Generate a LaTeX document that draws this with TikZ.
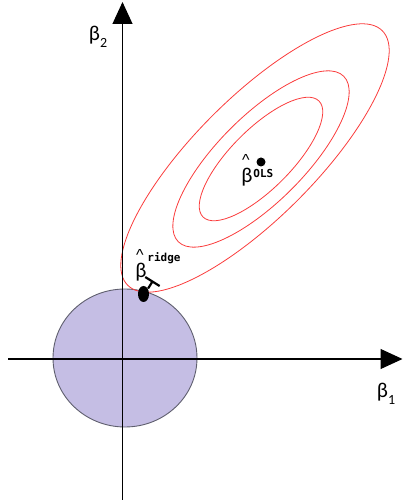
\documentclass[tikz,border=0pt]{standalone}
\usepackage{fontspec}
\setmainfont{Carlito}
\newfontfamily\supfont{DejaVu Sans Mono}
\newfontfamily\hatfont{Liberation Sans}
\usepackage{tikz}
\usetikzlibrary{arrows.meta,positioning,shapes.geometric}

\definecolor{ballfill}{RGB}{197,190,228}
\definecolor{balldraw}{RGB}{95,95,110}
\definecolor{rsscol}{RGB}{250,60,60}

\begin{document}
\begin{tikzpicture}[
  x=0.5pt,y=0.5pt,
  axis/.style={draw,line width=0.55pt,-{Triangle[length=11pt,width=10pt]}},
  ball/.style={fill=ballfill,draw=balldraw,line width=0.45pt},
  contour/.style={draw=rsscol,line width=0.4pt},
  bsym/.style={inner sep=0pt,font=\fontsize{10.5}{12}\selectfont},
  hatsym/.style={inner sep=0pt,font=\fontsize{8}{9}\hatfont},
  supsym/.style={inner sep=0pt,font=\fontsize{5.5}{6}\supfont\bfseries},
  dot/.style={fill=black,inner sep=0pt}
]
\useasboundingbox (0,0) rectangle (403,503);
% constraint region and the RSS contours
\draw[ball] (125,145) ellipse [x radius=72, y radius=69];
\draw[contour,rotate around={45:(255,345)}] (255,345) ellipse [x radius=180, y radius=60];
\draw[contour,rotate around={45:(261,344)}] (261,344) ellipse [x radius=117, y radius=43];
\draw[contour,rotate around={45:(261,344)}] (261,344) ellipse [x radius=82, y radius=30];
% axes
\coordinate (xl) at (8,144);
\coordinate (xr) at (402.5,144);
\coordinate (yb) at (122.5,3);
\coordinate (yt) at (122.5,501);
\draw[axis] (xl) -- (xr);
\draw[axis] (yb) -- (yt);
\node[bsym] (b1) at (386,109) {β\raisebox{-0.7ex}{\fontsize{7}{8}\selectfont 1}};
\node[bsym] (b2) at (98,466) {β\raisebox{-0.7ex}{\fontsize{7}{8}\selectfont 2}};
% estimates
\node[dot,circle,minimum size=4.5pt] (odot) at (261,341) {};
\node[dot,ellipse,minimum width=5.5pt,minimum height=8pt] (rdot) at (143.5,209) {};
\draw[line width=1.1pt,-{Bar[width=8.5pt,line width=1.1pt]}] (rdot.50) -- ++(5,8);
\node[bsym] (ob) at (247,326) {β};
\node[hatsym,above=0.8pt of ob,xshift=-0.5pt] (oh) {\textasciicircum};
\node[supsym,anchor=west] (os) at (253,329) {OLS};
\node[bsym] (rb) at (141,231) {β};
\node[hatsym,above=0.8pt of rb,xshift=-0.5pt] (rh) {\textasciicircum};
\node[supsym,anchor=west] (rs) at (147,244.5) {ridge};
\end{tikzpicture}
\end{document}
